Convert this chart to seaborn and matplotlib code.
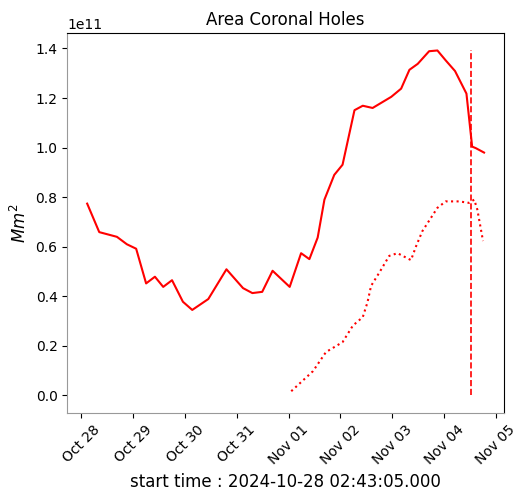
import matplotlib
matplotlib.use("Agg")
import matplotlib.pyplot as plt
import matplotlib.dates as mdates
import seaborn as sns
import pandas as pd

start = pd.Timestamp("2024-10-28 00:00:00")

# area of coronal holes (solid), in days since Oct 28 and units of 1e11 Mm^2
area_days = [0.113, 0.346, 0.687, 0.879, 1.058, 1.25, 1.42, 1.58, 1.75, 1.96,
             2.14, 2.45, 2.80, 3.12, 3.30, 3.49, 3.69, 4.02, 4.24, 4.40,
             4.56, 4.69, 4.88, 5.04, 5.27, 5.43, 5.62, 5.98, 6.17, 6.33,
             6.49, 6.71, 6.87, 7.03, 7.21, 7.43, 7.54, 7.61, 7.77]
area_vals = [0.774, 0.659, 0.640, 0.610, 0.592, 0.452, 0.479, 0.438, 0.465, 0.378,
             0.345, 0.389, 0.509, 0.433, 0.413, 0.418, 0.503, 0.438, 0.574, 0.550,
             0.637, 0.790, 0.890, 0.931, 1.151, 1.169, 1.160, 1.205, 1.238, 1.314,
             1.338, 1.389, 1.392, 1.352, 1.309, 1.218, 1.004, 0.998, 0.980]

# second series (dotted)
dot_days = [4.05, 4.47, 4.72, 5.04, 5.24, 5.43, 5.52, 5.59, 5.75, 5.94,
            6.10, 6.36, 6.46, 6.58, 6.87, 7.03, 7.29, 7.48, 7.58, 7.64, 7.75]
dot_vals = [0.017, 0.098, 0.175, 0.215, 0.282, 0.316, 0.375, 0.442, 0.496, 0.563,
            0.574, 0.546, 0.603, 0.663, 0.757, 0.783, 0.783, 0.777, 0.790, 0.750, 0.623]

# marker time (dashed vertical)
event_day = 7.51

area = pd.DataFrame({
    "time": start + pd.to_timedelta(area_days, unit="D"),
    "area": [v * 1e11 for v in area_vals],
})
dots = pd.DataFrame({
    "time": start + pd.to_timedelta(dot_days, unit="D"),
    "area": [v * 1e11 for v in dot_vals],
})
event_time = start + pd.to_timedelta(event_day, unit="D")

fig, ax = plt.subplots(figsize=(5.26, 4.96), dpi=100)
fig.subplots_adjust(left=0.128, right=0.958, bottom=0.168, top=0.933)

sns.lineplot(data=area, x="time", y="area", color="red", linewidth=1.5, ax=ax)
sns.lineplot(data=dots, x="time", y="area", color="red", linewidth=1.5, linestyle=":", ax=ax)
ax.plot([event_time, event_time], [0, area["area"].max()], color="red", linestyle="--", linewidth=1.2)

ax.xaxis.set_major_locator(mdates.DayLocator())
ax.xaxis.set_major_formatter(mdates.DateFormatter("%b %d"))
plt.setp(ax.get_xticklabels(), rotation=45)

ax.set_title("Area Coronal Holes", fontsize=12)
ax.set_ylabel("$Mm^2$", fontsize=12)
ax.set_xlabel("start time : 2024-10-28 02:43:05.000", fontsize=12)

for side in ["left", "bottom"]:
    ax.spines[side].set_color("#999999")

fig.savefig("out.png", dpi=100)
plt.close(fig)
